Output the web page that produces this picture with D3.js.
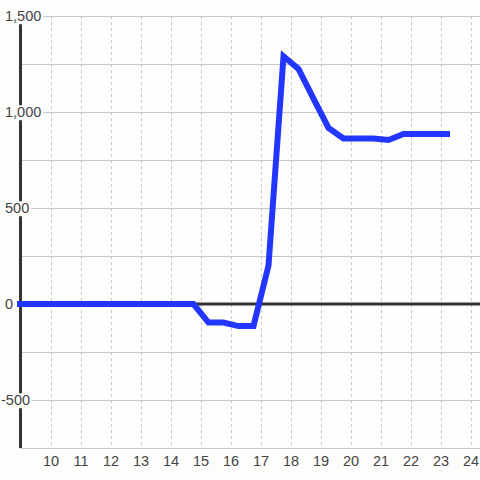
<!DOCTYPE html>
<html>
<head>
<meta charset="utf-8">
<script src="https://cdn.jsdelivr.net/npm/d3@7"></script>
<style>
  html, body { margin: 0; padding: 0; background: #fdfdfc; }
  svg { display: block; font-family: "Liberation Sans", Arial, sans-serif; }
</style>
</head>
<body>
<div id="chart"></div>
<script>
// data
var hours = [8.75, 9.25, 9.75, 10.25, 10.75, 11.25, 11.75, 12.25, 12.75, 13.25, 13.75, 14.25,
  14.75, 15.25, 15.75, 16.25, 16.75, 17.25, 17.75, 18.25, 18.75, 19.25, 19.75, 20.25,
  20.75, 21.25, 21.75, 22.25, 22.75, 23.3];
var values = [0, 0, 0, 0, 0, 0, 0, 0, 0, 0, 0, 0,
  0, -97, -97, -115, -115, 200, 1290, 1224, 1070, 917, 862, 862,
  862, 854, 885, 885, 885, 885];
var xTicks = [10, 11, 12, 13, 14, 15, 16, 17, 18, 19, 20, 21, 22, 23, 24];
var yTicks = [1500, 1000, 500, 0, -500];
var yGrid = [1500, 1250, 1000, 750, 500, 250, -250, -500, -750];

var width = 480, height = 480;
var bg = "#fdfdfc";

var svg = d3.select("#chart").append("svg")
  .attr("width", width)
  .attr("height", height);

var x = d3.scaleLinear().domain([10, 24]).range([51, 471]);
var y = d3.scaleLinear().domain([-500, 1500]).range([400, 16]);

var fmt = d3.formatLocale({decimal: ".", thousands: ",", grouping: [3], currency: ["", ""], minus: "-"}).format(",");

var left = 20.5, right = width;

// vertical dotted grid
svg.append("g").selectAll("line")
  .data(xTicks)
  .enter().append("line")
  .attr("x1", function(d) { return Math.round(x(d)) + 0.5; })
  .attr("x2", function(d) { return Math.round(x(d)) + 0.5; })
  .attr("y1", y(1500))
  .attr("y2", y(-750))
  .style("stroke", "#c8c8c8")
  .style("stroke-dasharray", "3,3")
  .style("stroke-width", 1);

// horizontal grid
svg.append("g").selectAll("line")
  .data(yGrid)
  .enter().append("line")
  .attr("x1", left)
  .attr("x2", right)
  .attr("y1", function(d) { return Math.round(y(d)) + 0.5; })
  .attr("y2", function(d) { return Math.round(y(d)) + 0.5; })
  .style("stroke", "#c8c8c8")
  .style("stroke-width", 1);

// y axis line
svg.append("line")
  .attr("x1", left).attr("x2", left)
  .attr("y1", y(1500)).attr("y2", y(-750))
  .style("stroke", "#333")
  .style("stroke-width", 3);

// y labels with a background box over the axis
var yl = svg.append("g").selectAll("g")
  .data(yTicks)
  .enter().append("g");

yl.append("text")
  .attr("x", function(d) { return d < 0 ? 1 : 5; })
  .attr("y", function(d) { return y(d); })
  .attr("dy", "0.36em")
  .style("font-size", "14.5px")
  .style("fill", "#444")
  .text(function(d) { return fmt(d); });

yl.each(function() {
  var g = d3.select(this);
  var bb = g.select("text").node().getBBox();
  g.insert("rect", "text")
    .attr("x", bb.x - 1)
    .attr("y", bb.y + 1)
    .attr("width", bb.width + 3)
    .attr("height", bb.height - 1)
    .style("fill", bg);
});

// x labels
svg.append("g").selectAll("text")
  .data(xTicks)
  .enter().append("text")
  .attr("x", function(d) { return x(d); })
  .attr("y", 466)
  .attr("text-anchor", "middle")
  .style("font-size", "14.5px")
  .style("fill", "#444")
  .text(function(d) { return d; });

// zero line
svg.append("line")
  .attr("x1", left).attr("x2", right)
  .attr("y1", y(0)).attr("y2", y(0))
  .style("stroke", "#333")
  .style("stroke-width", 3);

// series
svg.append("clipPath").attr("id", "clip")
  .append("rect").attr("x", 17).attr("y", 0).attr("width", 463).attr("height", 480);

var line = d3.line()
  .x(function(d, i) { return x(hours[i]); })
  .y(function(d) { return y(d); });

svg.append("path")
  .datum(values)
  .attr("clip-path", "url(#clip)")
  .attr("d", line)
  .style("fill", "none")
  .style("stroke", "#2236ff")
  .style("stroke-width", 6)
  .style("stroke-linejoin", "miter");
</script>
</body>
</html>
